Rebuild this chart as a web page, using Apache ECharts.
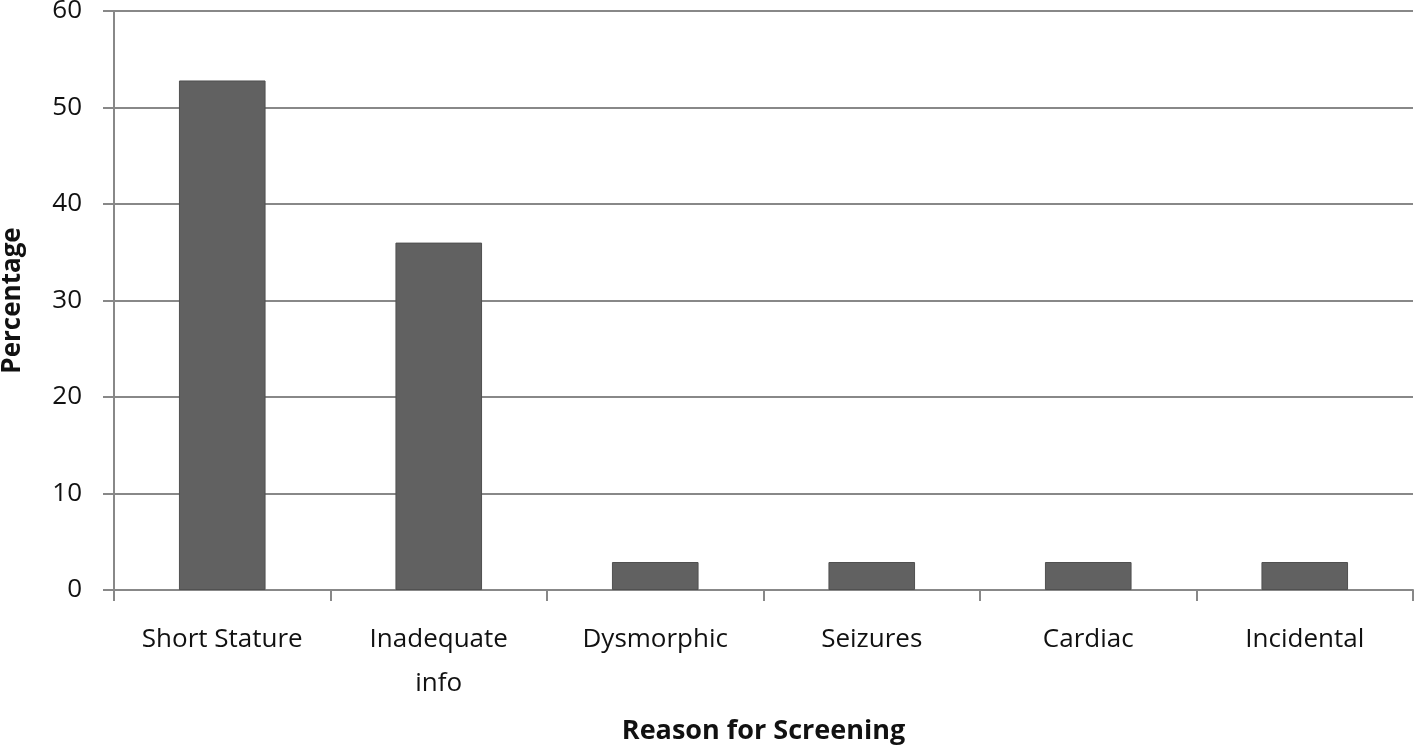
<!DOCTYPE html>
<html>
<head>
<meta charset="utf-8">
<script src="https://cdn.jsdelivr.net/npm/echarts@6/dist/echarts.min.js"></script>
<style>html,body{margin:0;padding:0;background:#fff}#c{width:1418px;height:749px}</style>
</head>
<body>
<div id="c"></div>
<script>
var categories = ['Short Stature', 'Inadequate\ninfo', 'Dysmorphic', 'Seizures', 'Cardiac', 'Incidental'];
var percentages = [52.8, 36.0, 2.9, 2.9, 2.9, 2.9];
var yMin = 0, yMax = 60, yStep = 10;

var chart = echarts.init(document.getElementById('c'));
var font = 'Open Sans';
chart.setOption({
  animation: false,
  grid: { left: 114, right: 5, top: 11, bottom: 159, containLabel: false, outerBoundsMode: 'none' },
  xAxis: {
    type: 'category',
    data: categories,
    name: 'Reason for Screening',
    nameLocation: 'middle',
    nameGap: 128,
    nameTextStyle: { fontFamily: font, fontSize: 27, fontWeight: 'bold', color: '#111' },
    axisLine: { lineStyle: { color: '#888', width: 2 } },
    axisTick: { show: true, length: 11, lineStyle: { color: '#888', width: 2 } },
    axisLabel: { margin: 28, fontFamily: font, fontSize: 26, color: '#111', lineHeight: 44, interval: 0 }
  },
  yAxis: {
    type: 'value',
    min: yMin, max: yMax, interval: yStep,
    name: 'Percentage',
    nameLocation: 'middle',
    nameGap: 88,
    nameTextStyle: { fontFamily: font, fontSize: 26, fontWeight: 'bold', color: '#111' },
    axisLine: { show: true, lineStyle: { color: '#888', width: 2 } },
    axisTick: { show: true, length: 11, lineStyle: { color: '#888', width: 2 } },
    axisLabel: { margin: 32, fontFamily: font, fontSize: 26, color: '#111' },
    splitLine: { lineStyle: { color: '#888', width: 2 } }
  },
  series: [{
    type: 'bar',
    data: percentages,
    barWidth: '40%',
    itemStyle: { color: '#616161', borderColor: '#505050', borderWidth: 1 }
  }]
});
</script>
</body>
</html>
